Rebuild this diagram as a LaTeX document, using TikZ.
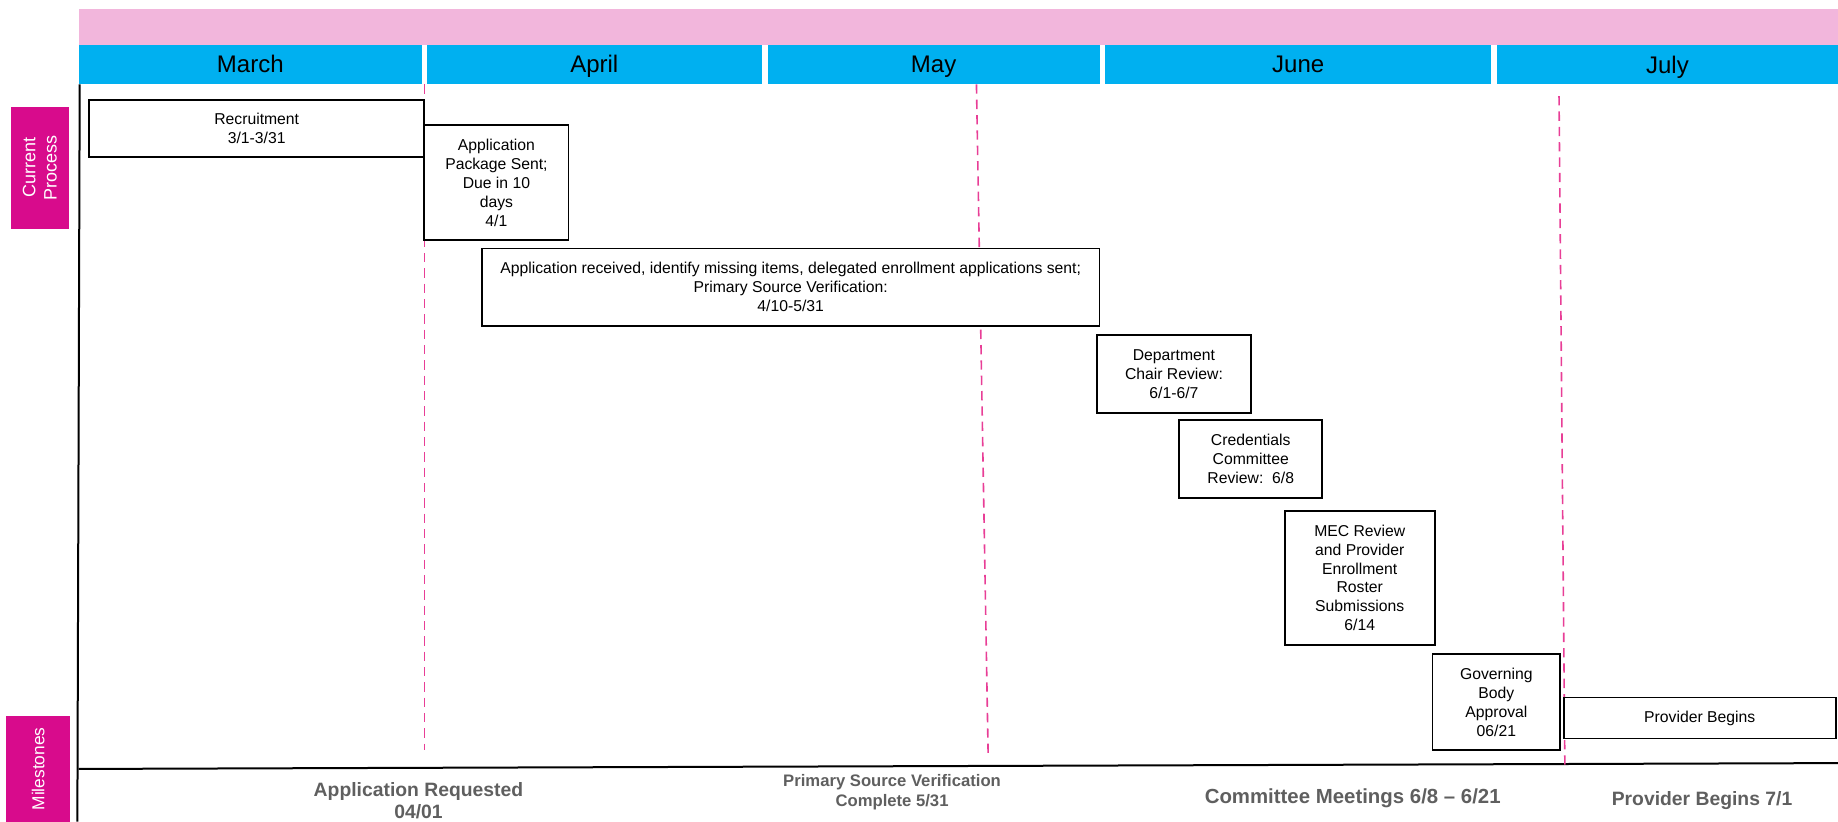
\documentclass[tikz,border=0pt]{standalone}
\usepackage{fontspec}
\setmainfont{Liberation Sans}
\usetikzlibrary{positioning}

\definecolor{bandpink}{HTML}{F2B6DC}
\definecolor{monthblue}{HTML}{00B0F0}
\definecolor{lanemagenta}{HTML}{D80B8C}
\definecolor{guidepink}{HTML}{E83E96}
\definecolor{milegray}{HTML}{5F5F5F}

\tikzset{
  sized/.style 2 args={minimum width=#1*0.8792pt, minimum height=#2*0.8792pt},
  monthname/.style={font=\fontsize{18}{20}\selectfont, inner sep=0pt, anchor=base},
  taskbox/.style={draw=black, line width=1.4pt, fill=white, align=center,
    inner sep=1pt, font=\fontsize{11.8}{14.2}\selectfont},
  lanetag/.style={fill=lanemagenta, text=white, align=center, rotate=90,
    inner sep=0pt, font=\fontsize{13.5}{16}\selectfont},
  guide/.style={draw=guidepink, line width=1.2pt, dash pattern=on 7pt off 4.5pt},
  milestone/.style={text=milegray, align=center, inner sep=0pt,
    font=\bfseries\fontsize{14.5}{16}\selectfont},
}

\begin{document}
\begin{tikzpicture}[x=0.8792pt, y=-0.8792pt]
  \useasboundingbox (0,0) rectangle (1568,701);

  % header bands
  \fill[bandpink] (67,8) rectangle (1568,38);
  \foreach \name/\xa/\xb/\yb in {March/67/360/62, April/364/650/62, May/655/938/62,
                                 June/943/1272/62, July/1277/1568/63} {
    \fill[monthblue] (\xa,38) rectangle (\xb,72);
    \node[monthname] (m-\name) at ({(\xa+\xb)/2},\yb) {\name};
  }

  % lane labels
  \node[lanetag, sized={104}{50}] (lane-cur) at (34,143) {Current\\Process};
  \node[lanetag, sized={91}{55}, font=\fontsize{13}{15}\selectfont] (lane-mile) at (32.5,656) {Milestones};

  % axes
  \draw[line width=1.5pt] (68,72) -- (66,701);
  \draw[line width=1.5pt] (67,656) -- (1568,651);

  % month guides
  \draw[guide] (362,72) -- (362,640);
  \draw[guide] (833,72) -- (843,645);
  \draw[guide] (1330,82) -- (1335,655);

  % process steps
  \node[taskbox, sized={286}{49}] (recruit) at (219,109.5)
    {Recruitment\\3/1-3/31};
  \node[taskbox, sized={123}{98}] (package) at (423.5,156)
    {Application\\Package Sent;\\Due in 10\\days\\4/1};
  \node[taskbox, sized={527}{66}] (received) at (674.5,245)
    {Application received, identify missing items, delegated enrollment applications sent;\\
     Primary Source Verification:\\4/10-5/31};
  \node[taskbox, sized={131}{66}] (chair) at (1001.5,319)
    {Department\\Chair Review:\\6/1-6/7};
  \node[taskbox, sized={122}{67}] (cred) at (1067,391.5)
    {Credentials\\Committee\\Review:~~6/8};
  \node[taskbox, sized={128}{114}] (mec) at (1160,493)
    {MEC Review\\and Provider\\Enrollment\\Roster\\Submissions\\6/14};
  \node[taskbox, sized={109}{82}] (govern) at (1276.5,599)
    {Governing\\Body\\Approval\\06/21};
  \node[taskbox, sized={232}{35}] (begins) at (1450,612.5)
    {Provider Begins};

  % milestones
  \node[milestone] (ms-req) at (357,683) {Application Requested\\04/01};
  \node[milestone, font=\bfseries\fontsize{12.5}{15}\selectfont] (ms-psv) at (761,676)
    {Primary Source Verification\\Complete 5/31};
  \node[milestone, font=\bfseries\fontsize{15.3}{17}\selectfont] (ms-comm) at (1154,681)
    {Committee Meetings 6/8 -- 6/21};
  \node[milestone] (ms-start) at (1452,683) {Provider Begins 7/1};
\end{tikzpicture}
\end{document}
